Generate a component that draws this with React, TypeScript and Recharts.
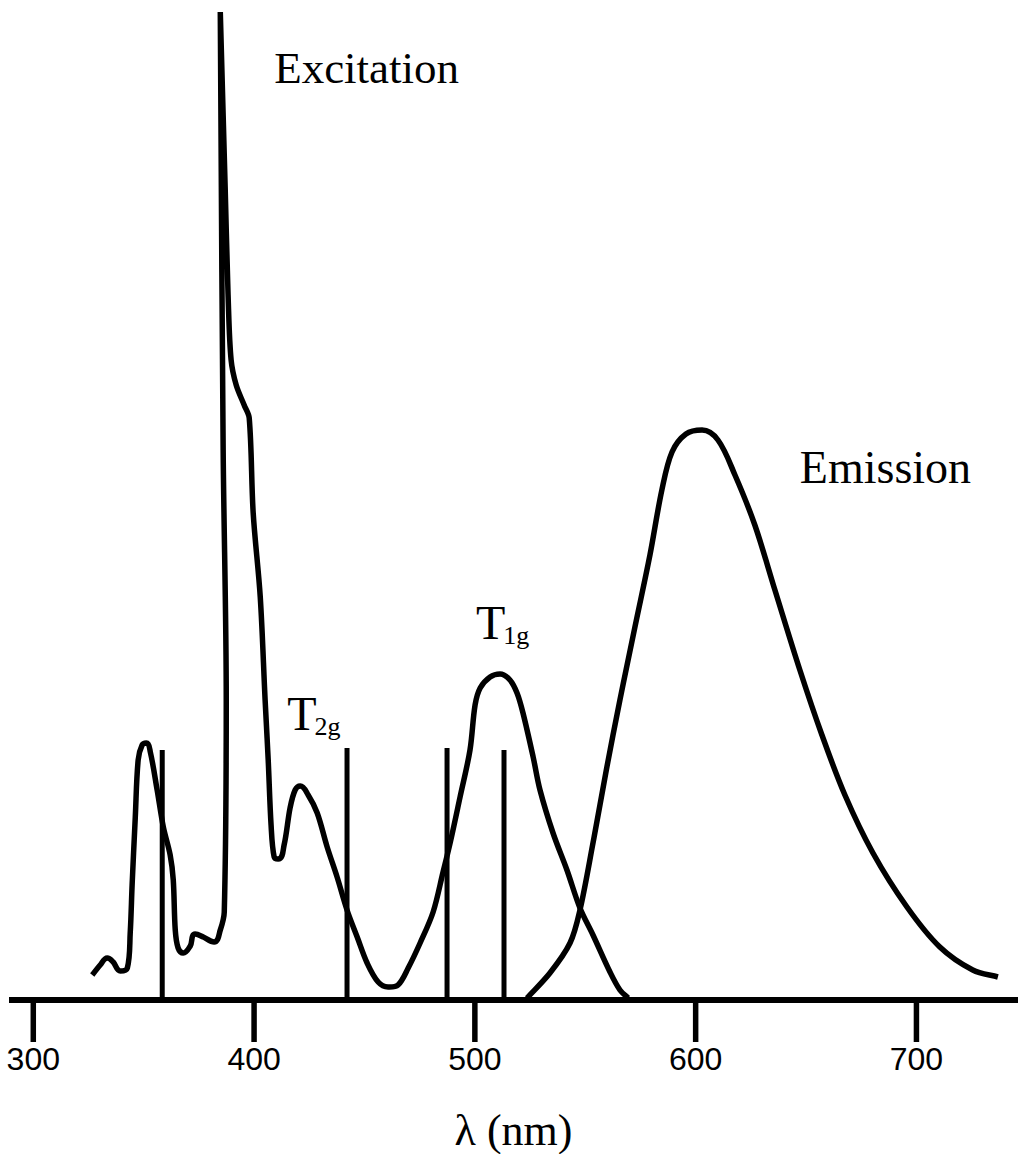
import React from 'react';
import { ComposedChart, Line, XAxis, YAxis, ReferenceLine, ReferenceDot } from 'recharts';

// wavelength (nm) / relative intensity
const excitationNm = [
  326.7, 330.3, 333.5, 336.2, 339.4, 342.6, 343.9, 344.8, 346.2, 347.5, 349.3, 351.2, 353.0,
  356.1, 358.9, 362.0, 363.4, 364.3, 365.6, 367.9, 371.1, 373.3, 377.0, 381.9, 384.7, 386.5,
  387.4, 386.0, 384.7, 386.9, 388.3, 389.6, 391.9, 395.5, 397.8, 399.6, 402.8, 405.0, 406.4,
  407.7, 409.1, 410.9, 413.6, 416.3, 418.6, 420.9, 424.5, 428.6, 433.1, 437.6, 442.1, 446.7,
  451.2, 456.2, 460.7, 465.2, 469.8, 475.2, 481.1, 485.6, 488.8, 493.3, 497.8, 500.1, 502.4,
  506.9, 511.4, 515.9, 519.1, 521.8, 526.4, 529.5, 535.4, 541.7, 547.6, 553.5, 561.2, 565.7,
  569.4,
];
const excitationI = [
  2.5, 3.5, 4.2, 3.8, 2.9, 3.2, 6.7, 11.7, 18.3, 24.0, 25.5, 25.7, 24.8,
  21.0, 17.3, 14.5, 12.0, 7.0, 5.2, 4.7, 5.4, 6.6, 6.3, 5.8, 7.0, 8.8,
  30.0, 55.0, 98.8, 81.3, 70.0, 64.0, 61.5, 59.5, 58.2, 48.7, 40.3, 30.0, 24.0,
  17.5, 14.3, 14.1, 15.5, 19.2, 21.0, 21.4, 20.5, 18.7, 15.3, 12.3, 9.0, 6.3,
  3.7, 1.8, 1.3, 1.5, 3.2, 5.7, 8.8, 12.8, 15.7, 20.3, 25.0, 29.5, 31.2,
  32.3, 32.6, 32.0, 30.7, 28.7, 24.3, 21.0, 16.7, 13.0, 9.2, 6.5, 2.8, 1.0,
  0.2,
];

const emissionNm = [
  523.6, 534.0, 543.1, 547.6, 553.5, 559.8, 565.7, 572.5, 579.3, 584.7, 589.3, 595.6,
  602.9, 610.1, 617.8, 626.8, 635.9, 647.2, 657.2, 667.6, 680.3, 695.7, 710.6, 725.5,
  736.9,
];
const emissionI = [
  0.2, 2.7, 5.7, 9.0, 15.7, 23.3, 30.0, 37.3, 44.5, 51.0, 54.8, 56.6,
  57.0, 56.0, 52.5, 47.5, 41.0, 33.0, 26.5, 20.5, 14.7, 9.3, 5.3, 3.0,
  2.3,
];

// crystal-field transition lines
const transitionNm = [358.4, 442.1, 487.4, 513.2];
const transitionI = [25.0, 25.2, 25.2, 25.0];

const xTicks = [300, 400, 500, 600, 700];

const excitation = excitationNm.map((x, i) => ({ x, y: excitationI[i] }));
const emission = emissionNm.map((x, i) => ({ x, y: emissionI[i] }));

const serif = "'Liberation Serif', 'Times New Roman', serif";

// smooth bezier through the traced points; tangents are flattened at local
// extrema so peaks stay round and the excitation spike keeps its point
const smoothCurve = (ctx: any) => {
  let pts: number[][] = [];
  return {
    areaStart() {},
    areaEnd() {},
    lineStart() {
      pts = [];
    },
    point(x: number, y: number) {
      pts.push([+x, +y]);
    },
    lineEnd() {
      const n = pts.length;
      if (!n) return;
      const dirs = pts.map((p, i) => {
        const a = pts[Math.max(i - 1, 0)];
        const b = pts[Math.min(i + 1, n - 1)];
        const d = [0, 1].map((k) => ((p[k] - a[k]) * (b[k] - p[k]) < 0 ? 0 : b[k] - a[k]));
        const len = Math.hypot(d[0], d[1]);
        return len ? [d[0] / len, d[1] / len] : [0, 0];
      });
      ctx.moveTo(pts[0][0], pts[0][1]);
      for (let i = 1; i < n; i++) {
        const p = pts[i - 1];
        const q = pts[i];
        const l = Math.hypot(q[0] - p[0], q[1] - p[1]) / 3;
        ctx.bezierCurveTo(
          p[0] + dirs[i - 1][0] * l,
          p[1] + dirs[i - 1][1] * l,
          q[0] - dirs[i][0] * l,
          q[1] - dirs[i][1] * l,
          q[0],
          q[1]
        );
      }
    },
  };
};

const textShape = (text: string, size: number) => (p: any) => (
  <text x={p.cx} y={p.cy} fontFamily={serif} fontSize={size} fill="#000">
    {text}
  </text>
);

const termShape = (sub: string) => (p: any) => (
  <text x={p.cx} y={p.cy} fontFamily={serif} fontSize={48} fill="#000">
    T
    <tspan fontSize={26} dx={-2} dy={5}>
      {sub}
    </tspan>
  </text>
);

export default function App() {
  return (
    <div style={{ position: 'absolute', left: 0, top: 0, background: '#fff' }}>
      <ComposedChart width={1018} height={1154} margin={{ top: 0, right: 0, bottom: 0, left: 9 }}>
        <XAxis
          type="number"
          dataKey="x"
          domain={[289, 746]}
          ticks={xTicks}
          interval={0}
          height={154}
          axisLine={{ stroke: '#000', strokeWidth: 6 }}
          tickLine={{ stroke: '#000', strokeWidth: 5.5 }}
          tickSize={42}
          tickMargin={5}
          tick={{
            fill: '#000',
            fontSize: 32,
            fontFamily: "'Liberation Sans Narrow', 'Liberation Sans', Arial, sans-serif",
          }}
          label={{
            value: 'λ (nm)',
            position: 'insideBottom',
            offset: 9,
            fontSize: 44,
            fontFamily: serif,
            fill: '#000',
          }}
          allowDataOverflow
        />
        <YAxis type="number" domain={[0, 100]} hide allowDataOverflow />

        {transitionNm.map((x, i) => (
          <ReferenceLine
            key={`t-${i}`}
            segment={[
              { x, y: 0 },
              { x, y: transitionI[i] },
            ]}
            stroke="#000"
            strokeWidth={5}
          />
        ))}

        <Line
          data={excitation}
          dataKey="y"
          type={smoothCurve as any}
          stroke="#000"
          strokeWidth={5.5}
          dot={false}
          isAnimationActive={false}
        />
        <Line
          data={emission}
          dataKey="y"
          type={smoothCurve as any}
          stroke="#000"
          strokeWidth={5.5}
          dot={false}
          isAnimationActive={false}
        />

        <ReferenceDot x={409.1} y={91.7} r={0} shape={textShape('Excitation', 45)} />
        <ReferenceDot x={647.2} y={51.7} r={0} shape={textShape('Emission', 46)} />
        <ReferenceDot x={415.0} y={27.0} r={0} shape={termShape('2g')} />
        <ReferenceDot x={500.5} y={36.1} r={0} shape={termShape('1g')} />
      </ComposedChart>
    </div>
  );
}
